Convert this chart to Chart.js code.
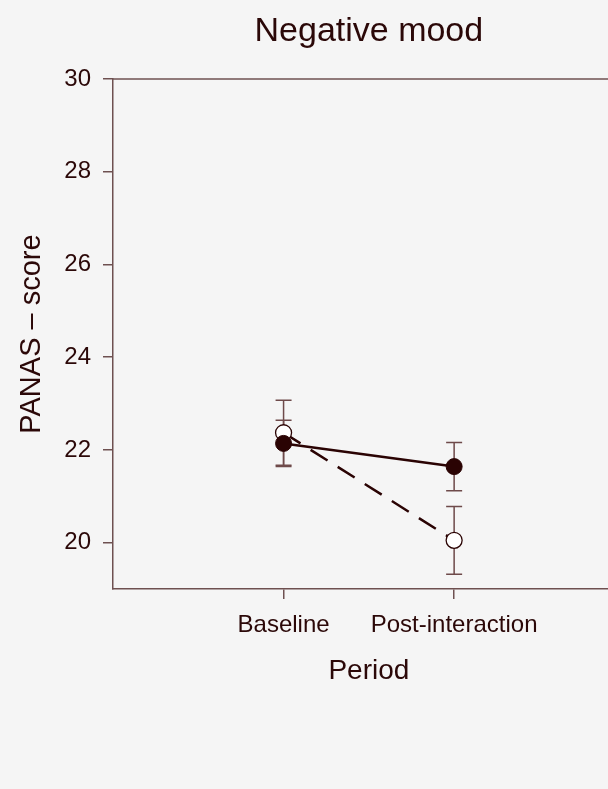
<!DOCTYPE html>
<html>
<head>
<meta charset="utf-8">
<script src="https://cdn.jsdelivr.net/npm/chart.js@4/dist/chart.umd.min.js"></script>
<style>
  html, body { margin: 0; padding: 0; background: #f5f5f5; overflow: hidden; }
  .wrap { width: 608px; height: 789px; overflow: hidden; }
</style>
</head>
<body>
<div class="wrap">
  <canvas id="chart" width="634" height="789"></canvas>
</div>
<script>
// data
const periods = ['Baseline', 'Post-interaction'];
const periodPos = [1, 2];
const filledMeans = [22.14, 21.64];
const filledErr = [0.5, 0.52];
const openMeans = [22.37, 20.05];
const openErr = [0.7, 0.73];
const yTicks = [20, 22, 24, 26, 28, 30];

const textColor = '#2b0808';
const axisColor = '#6e5050';
const lineColor = '#2a0303';
const errColor = '#6e4a4a';
const font = "'Liberation Sans', Arial, sans-serif";

const series = [
  { means: filledMeans, err: filledErr },
  { means: openMeans, err: openErr }
];

const extras = {
  id: 'extras',
  beforeDatasetsDraw(chart) {
    const { ctx, scales: { x, y } } = chart;
    ctx.save();
    ctx.strokeStyle = errColor;
    ctx.lineWidth = 1.5;
    series.forEach(s => {
      s.means.forEach((m, i) => {
        const px = x.getPixelForValue(periodPos[i]);
        const top = y.getPixelForValue(m + s.err[i]);
        const bot = y.getPixelForValue(m - s.err[i]);
        ctx.beginPath();
        ctx.moveTo(px, top); ctx.lineTo(px, bot);
        ctx.moveTo(px - 8, top); ctx.lineTo(px + 8, top);
        ctx.moveTo(px - 8, bot); ctx.lineTo(px + 8, bot);
        ctx.stroke();
      });
    });
    ctx.restore();
  },
  afterDraw(chart) {
    const { ctx, chartArea, scales: { x } } = chart;
    ctx.save();
    // top frame line
    ctx.strokeStyle = axisColor;
    ctx.lineWidth = 1.5;
    ctx.beginPath();
    ctx.moveTo(chartArea.left, chartArea.top);
    ctx.lineTo(chartArea.right, chartArea.top);
    ctx.stroke();
    const cx = x.getPixelForValue(1.5);
    ctx.fillStyle = textColor;
    ctx.textAlign = 'center';
    ctx.textBaseline = 'alphabetic';
    ctx.font = `34px ${font}`;
    ctx.fillText('Negative mood', cx, 41);
    ctx.font = `28px ${font}`;
    ctx.fillText('Period', cx, 679);
    ctx.restore();
  }
};

new Chart(document.getElementById('chart'), {
  type: 'line',
  data: {
    datasets: [
      {
        label: 'Filled',
        data: periodPos.map((p, i) => ({ x: p, y: filledMeans[i] })),
        borderColor: lineColor,
        borderWidth: 2.5,
        backgroundColor: lineColor,
        pointBackgroundColor: lineColor,
        pointBorderColor: lineColor,
        pointBorderWidth: 1,
        pointRadius: 8,
        tension: 0
      },
      {
        label: 'Open',
        data: periodPos.map((p, i) => ({ x: p, y: openMeans[i] })),
        borderColor: lineColor,
        borderWidth: 2.5,
        borderDash: [20, 12],
        pointBackgroundColor: '#ffffff',
        pointBorderColor: lineColor,
        pointBorderWidth: 1.3,
        pointRadius: 8,
        tension: 0
      }
    ]
  },
  options: {
    responsive: false,
    animation: false,
    layout: { padding: { top: 79, left: 0, right: 0, bottom: 0 } },
    plugins: {
      legend: { display: false },
      tooltip: { enabled: false }
    },
    scales: {
      x: {
        type: 'linear',
        min: 0,
        max: 3,
        afterBuildTicks: s => { s.ticks = periodPos.map(v => ({ value: v })); },
        afterFit: s => { s.height = 200; },
        ticks: {
          callback: v => periods[periodPos.indexOf(v)] ?? '',
          color: textColor,
          font: { family: font, size: 24 },
          padding: 12,
          maxRotation: 0,
          autoSkip: false
        },
        grid: { drawOnChartArea: false, tickLength: 10, color: axisColor, lineWidth: 1.5 },
        border: { color: axisColor, width: 1.5 }
      },
      y: {
        min: 19,
        max: 30,
        afterBuildTicks: s => { s.ticks = yTicks.map(v => ({ value: v })); },
        afterFit: s => { s.width = 113; },
        ticks: {
          color: textColor,
          font: { family: font, size: 24 },
          padding: 12
        },
        grid: { drawOnChartArea: false, tickLength: 10, color: axisColor, lineWidth: 1.5 },
        border: { color: axisColor, width: 1.5 },
        title: {
          display: true,
          text: 'PANAS \u2013 score',
          color: textColor,
          font: { family: font, size: 29 },
          padding: { top: 15, bottom: 0 }
        }
      }
    }
  },
  plugins: [extras]
});
</script>
</body>
</html>
